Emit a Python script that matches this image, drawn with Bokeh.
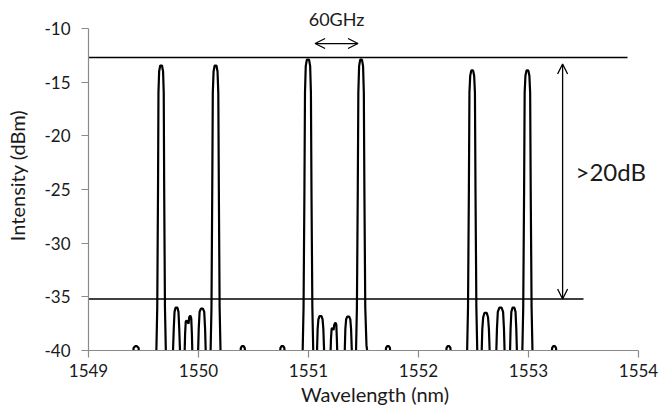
from bokeh.plotting import figure
from bokeh.models import Range1d, FixedTicker, Arrow, OpenHead, Label, PrintfTickFormatter
from bokeh.embed import file_html
from bokeh.resources import INLINE

# ---- data (wavelength in nm, intensity in dBm) ----
wavelength_nm = [
    1549.000,
    # small bump
    1549.400, 1549.410, 1549.425, 1549.440, 1549.455, 1549.465,
    # peak 1
    1549.615, 1549.625, 1549.632, 1549.636, 1549.642, 1549.652, 1549.668, 1549.678, 1549.684, 1549.688, 1549.695, 1549.705,
    # side lobes
    1549.765, 1549.775, 1549.782, 1549.792, 1549.808, 1549.818, 1549.825, 1549.835,
    1549.872, 1549.878, 1549.884, 1549.893, 1549.903, 1549.910, 1549.916, 1549.926, 1549.934, 1549.940, 1549.946,
    1549.994, 1550.002, 1550.010, 1550.022, 1550.040, 1550.052, 1550.060, 1550.068,
    # peak 2
    1550.108, 1550.118, 1550.125, 1550.130, 1550.137, 1550.147, 1550.163, 1550.173, 1550.180, 1550.185, 1550.192, 1550.202,
    # small bumps
    1550.375, 1550.385, 1550.395, 1550.410, 1550.420, 1550.430,
    1550.735, 1550.745, 1550.755, 1550.770, 1550.780, 1550.790,
    # peak 3
    1550.945, 1550.955, 1550.963, 1550.968, 1550.975, 1550.985, 1551.005, 1551.015, 1551.022, 1551.027, 1551.035, 1551.045,
    # side lobes
    1551.075, 1551.083, 1551.090, 1551.100, 1551.118, 1551.128, 1551.135, 1551.145,
    1551.198, 1551.204, 1551.210, 1551.218, 1551.228, 1551.234, 1551.245, 1551.253, 1551.258, 1551.264,
    1551.327, 1551.335, 1551.342, 1551.352, 1551.370, 1551.380, 1551.387, 1551.397,
    # peak 4
    1551.430, 1551.440, 1551.448, 1551.453, 1551.460, 1551.470, 1551.486, 1551.496, 1551.503, 1551.508, 1551.516, 1551.527, 1551.545,
    # small bumps
    1551.695, 1551.705, 1551.715, 1551.730, 1551.740, 1551.750,
    1552.245, 1552.255, 1552.265, 1552.280, 1552.290, 1552.300,
    # peak 5
    1552.440, 1552.450, 1552.458, 1552.463, 1552.470, 1552.480, 1552.496, 1552.506, 1552.513, 1552.518, 1552.526, 1552.536,
    # side lobes
    1552.572, 1552.580, 1552.588, 1552.600, 1552.620, 1552.632, 1552.640, 1552.650,
    1552.705, 1552.713, 1552.721, 1552.735, 1552.755, 1552.769, 1552.777, 1552.785,
    1552.830, 1552.837, 1552.844, 1552.855, 1552.871, 1552.882, 1552.889, 1552.897,
    # peak 6
    1552.942, 1552.952, 1552.960, 1552.965, 1552.972, 1552.982, 1552.998, 1553.008, 1553.015, 1553.020, 1553.028, 1553.038,
    # small bump
    1553.205, 1553.215, 1553.225, 1553.240, 1553.250, 1553.260,
    1554.000,
]
intensity_dbm = [
    -41,
    -41, -39.75, -39.6, -39.6, -39.75, -41,
    -41, -36, -25, -16, -14.0, -13.45, -13.45, -14.0, -16, -25, -36, -41,
    -41, -38, -36.4, -36.0, -36.0, -36.4, -38, -41,
    -41, -38.5, -37.3, -37.2, -37.4, -37.5, -36.9, -36.75, -37.0, -38.5, -41,
    -41, -38, -36.4, -36.1, -36.1, -36.4, -38, -41,
    -41, -36, -25, -16, -14.0, -13.45, -13.45, -14.0, -16, -25, -36, -41,
    -41, -39.75, -39.6, -39.6, -39.75, -41,
    -41, -39.75, -39.6, -39.6, -39.75, -41,
    -41, -36, -25, -16, -13.5, -12.9, -12.9, -13.5, -16, -25, -36, -41,
    -41, -38, -37.1, -36.8, -36.8, -37.1, -38, -41,
    -41, -39, -38.0, -37.9, -38.1, -37.6, -37.4, -37.6, -39, -41,
    -41, -38, -37.1, -36.85, -36.85, -37.1, -38, -41,
    -41, -36, -25, -16, -13.5, -12.9, -12.9, -13.5, -16, -25, -36, -39.5, -41,
    -41, -39.75, -39.6, -39.6, -39.75, -41,
    -41, -39.75, -39.6, -39.6, -39.75, -41,
    -41, -36, -25, -16, -14.4, -13.9, -13.9, -14.4, -16, -25, -36, -41,
    -41, -38, -36.9, -36.5, -36.5, -36.9, -38, -41,
    -41, -38, -36.4, -36.0, -36.0, -36.4, -38, -41,
    -41, -38, -36.4, -36.0, -36.0, -36.4, -38, -41,
    -41, -36, -25, -16, -14.4, -13.9, -13.9, -14.4, -16, -25, -36, -41,
    -41, -39.75, -39.6, -39.6, -39.75, -41,
    -41,
]

x_ticks = [1549, 1550, 1551, 1552, 1553, 1554]
y_ticks = [-40, -35, -30, -25, -20, -15, -10]

# annotation levels
peak_level_db = -12.7
floor_level_db = -35.2
peak_line_x = [1549.0, 1553.9]
floor_line_x = [1549.0, 1553.5]
contrast_arrow_x = 1553.31
contrast_arrow_db = [-35.2, -13.3]
contrast_text = ">20dB"
contrast_text_db = -23.32
spacing_arrow_x = [1551.06, 1551.45]
spacing_arrow_db = -11.4
spacing_text = "60GHz"
spacing_text_db = -9.07

FONT = "Lato"
AXIS_GRAY = "#8a8a8a"
TEXT = "#1a1a1a"

# frame: left at x=88, right at the page edge; bottom at -40, top above -10
# so that the annotation texts are not clipped (axes limited by bounds)
p = figure(width=661, height=412, output_backend="svg", toolbar_location=None,
           x_range=Range1d(1549, 1554.209), y_range=Range1d(-40, -7.39),
           min_border_left=88, min_border_right=0, min_border_top=0, min_border_bottom=62)
p.grid.visible = False
p.outline_line_color = None
p.background_fill_color = "white"
p.border_fill_color = "white"

p.xaxis.ticker = FixedTicker(ticks=x_ticks)
p.yaxis.ticker = FixedTicker(ticks=y_ticks)
p.yaxis.formatter = PrintfTickFormatter(format="%d")
p.xaxis.bounds = (x_ticks[0], x_ticks[-1])
p.yaxis.bounds = (y_ticks[0], y_ticks[-1])
for ax in (p.xaxis, p.yaxis):
    ax.axis_line_color = AXIS_GRAY
    ax.axis_line_width = 1.2
    ax.major_tick_line_color = AXIS_GRAY
    ax.major_tick_line_width = 1.2
    ax.major_tick_in = 0
    ax.major_tick_out = 7
    ax.minor_tick_line_color = None
    ax.major_label_text_font = FONT
    ax.major_label_text_font_size = "17px"
    ax.major_label_text_color = TEXT
    ax.axis_label_text_font = FONT
    ax.axis_label_text_font_size = "20px"
    ax.axis_label_text_font_style = "normal"
    ax.axis_label_text_color = TEXT
p.xaxis.axis_label = "Wavelength (nm)"
p.yaxis.axis_label = "Intensity (dBm)"
p.xaxis.major_label_standoff = 6
p.xaxis.axis_label_standoff = 2
p.yaxis.major_label_standoff = 11
p.yaxis.axis_label_standoff = 12

p.line(wavelength_nm, intensity_dbm, line_color="black", line_width=2.2)

p.line(peak_line_x, [peak_level_db, peak_level_db], line_color="black", line_width=1.5)
p.line(floor_line_x, [floor_level_db, floor_level_db], line_color="black", line_width=1.5)

p.add_layout(Arrow(start=OpenHead(size=10, line_width=1.3), end=OpenHead(size=10, line_width=1.3),
                   x_start=contrast_arrow_x, y_start=contrast_arrow_db[0],
                   x_end=contrast_arrow_x, y_end=contrast_arrow_db[1],
                   line_width=1.3, line_color="black"))
p.add_layout(Arrow(start=OpenHead(size=10, line_width=1.3), end=OpenHead(size=10, line_width=1.3),
                   x_start=spacing_arrow_x[0], y_start=spacing_arrow_db,
                   x_end=spacing_arrow_x[1], y_end=spacing_arrow_db,
                   line_width=1.3, line_color="black"))

p.add_layout(Label(x=contrast_arrow_x + 0.117, y=contrast_text_db, text=contrast_text,
                   text_font=FONT, text_font_size="24px", text_color=TEXT,
                   text_baseline="middle", text_align="left"))
p.add_layout(Label(x=sum(spacing_arrow_x) / 2, y=spacing_text_db, text=spacing_text,
                   text_font=FONT, text_font_size="18px", text_color=TEXT,
                   text_baseline="middle", text_align="center"))

open("out.html", "w").write(file_html(p, INLINE))
